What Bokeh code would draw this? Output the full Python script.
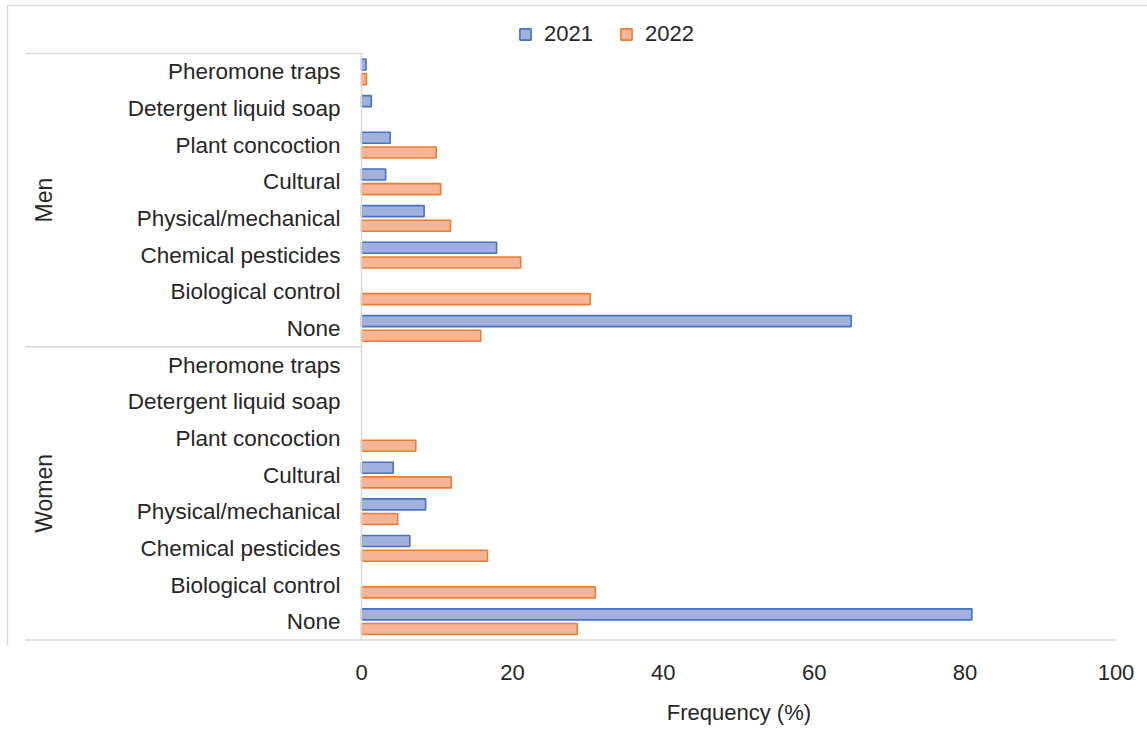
import math
from bokeh.plotting import figure
from bokeh.models import (Range1d, LinearAxis, FixedTicker, ColumnDataSource,
                          Legend, LegendItem, Title)
from bokeh.core.properties import value
from bokeh.embed import file_html
from bokeh.resources import INLINE

# ---------------- data ----------------
categories = ["Pheromone traps", "Detergent liquid soap", "Plant concoction",
              "Cultural", "Physical/mechanical", "Chemical pesticides",
              "Biological control", "None"]
groups = ["Men", "Women"]
years = ["2021", "2022"]
men_2021 = [0.6, 1.3, 3.8, 3.2, 8.3, 17.9, 0.0, 64.9]
men_2022 = [0.65, 0.0, 9.9, 10.5, 11.8, 21.1, 30.3, 15.8]
women_2021 = [0.0, 0.0, 0.0, 4.2, 8.5, 6.4, 0.0, 80.9]
women_2022 = [0.0, 0.0, 7.2, 11.9, 4.8, 16.7, 31.0, 28.6]
x_ticks = [0, 20, 40, 60, 80, 100]
x_title = "Frequency (%)"

# ---------------- styles ----------------
FONT = "Liberation Sans"
TXT = "#262626"
GRID = "#d9d9d9"
FILL = {"2021": "#a1b1dc", "2022": "#f5b596"}
EDGE = {"2021": "#4472c4", "2022": "#ed7d31"}
FS = "22px"
FS_CAT = "22.5px"
FS_GRP = "23px"

n_cat = len(categories)
n_rows = n_cat * len(groups)

# pixel geometry of the plot area (x: 0 -> 361px, 100 -> 1115.5px)
px0, px100 = 361.0, 1115.5
ppu_x = (px100 - px0) / 100.0
py_bottom, py_top = 639.5, 53.0
ppu_y = (py_bottom - py_top) / n_rows

W, H = 1147, 735
frame_l, frame_r, frame_t, frame_b = 4, 1147, 2, 645


def xv(px):
    return (px - px0) / ppu_x


def yv(py):
    return (py_bottom - py) / ppu_y


p = figure(width=W, height=H,
           x_range=Range1d(xv(frame_l), xv(frame_r)),
           y_range=Range1d(yv(frame_b), yv(frame_t)),
           x_axis_type=None, y_axis_type=None,
           toolbar_location=None, output_backend="svg",
           min_border_left=frame_l, min_border_right=W - frame_r,
           min_border_top=frame_t, min_border_bottom=H - frame_b)
p.outline_line_color = None
p.background_fill_color = "white"
p.border_fill_color = "white"

# ---------------- bars ----------------
series = {"2021": [men_2021, women_2021], "2022": [men_2022, women_2022]}
offsets = {"2021": 0.2, "2022": -0.2}
renderers = {}
for yr in years:
    ys, vals = [], []
    for g, arr in enumerate(series[yr]):
        for i, v in enumerate(arr):
            if v > 0:
                ys.append(n_rows - g * n_cat - i - 0.5 + offsets[yr])
                vals.append(v)
    src = ColumnDataSource(dict(y=ys, right=vals))
    renderers[yr] = p.hbar(y="y", left=0, right="right", height=0.3, source=src,
                           fill_color=FILL[yr], line_color=EDGE[yr], line_width=1.6)

# ---------------- category and group labels ----------------
lab_y, lab_t = [], []
for g in range(len(groups)):
    for i, c in enumerate(categories):
        lab_y.append(n_rows - g * n_cat - i - 0.5)
        lab_t.append(c)
p.text(x=xv(340), y=lab_y, text=lab_t, text_align="right", text_baseline="middle",
       text_font=value(FONT), text_font_size=value(FS_CAT), text_color=TXT)

grp_y = [n_rows - g * n_cat - n_cat / 2 for g in range(len(groups))]
p.text(x=xv(43), y=grp_y, text=groups, angle=math.pi / 2, text_align="center",
       text_baseline="middle", text_font=value(FONT), text_font_size=value(FS_GRP),
       text_color=TXT)

# ---------------- separator lines ----------------
sep_y = [n_rows - g * n_cat for g in range(len(groups))]
p.segment(x0=xv(25), y0=sep_y, x1=0, y1=sep_y, line_color=GRID, line_width=1.5)
p.segment(x0=[xv(25)], y0=[0], x1=[100], y1=[0], line_color=GRID, line_width=1.5)
p.segment(x0=[0], y0=[0], x1=[0], y1=[n_rows], line_color=GRID, line_width=1.5)
# chart border (left and top)
p.segment(x0=[xv(7), xv(7)], y0=[yv(frame_b), yv(5)], x1=[xv(7), xv(frame_r)],
          y1=[yv(5), yv(5)], line_color=GRID, line_width=1.5)

# ---------------- x axis ----------------
xaxis = LinearAxis(ticker=FixedTicker(ticks=x_ticks), bounds=(0, 100))
xaxis.axis_line_color = None
xaxis.major_tick_line_color = None
xaxis.minor_tick_line_color = None
xaxis.major_tick_out = 0
xaxis.major_label_standoff = 19
xaxis.major_label_text_font = FONT
xaxis.major_label_text_font_size = FS
xaxis.major_label_text_color = TXT
# tiny blank axis label only adds a little vertical room before the title
xaxis.axis_label = " "
xaxis.axis_label_text_font_size = "1px"
xaxis.axis_label_standoff = 8
p.add_layout(xaxis, "below")

# axis title centred under the value range (0..100), not the whole frame
title_w = 144  # approx. rendered width of the title text
title = Title(text=x_title, align="left", vertical_align="top",
              offset=(px0 + px100) / 2.0 - title_w / 2.0 - frame_l,
              text_font=FONT, text_font_size=FS, text_font_style="normal",
              text_color=TXT, standoff=10)
p.add_layout(title, "below")

# ---------------- legend ----------------
legend = Legend(items=[LegendItem(label=yr, renderers=[renderers[yr]]) for yr in years],
                orientation="horizontal", location=(514, 598),
                glyph_width=14, glyph_height=14, label_standoff=12, spacing=26,
                padding=0, margin=0, border_line_color=None,
                background_fill_alpha=0.0,
                label_text_font=FONT, label_text_font_size=FS,
                label_text_color=TXT)
p.add_layout(legend, "center")

open("out.html", "w").write(file_html(p, INLINE))
